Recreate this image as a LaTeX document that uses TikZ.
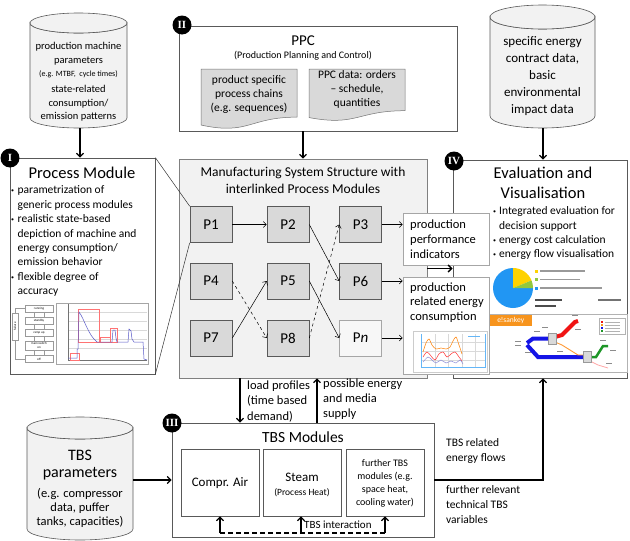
\documentclass[tikz,border=0pt]{standalone}
\usepackage{fontspec}
\setmainfont{Carlito}
\newfontfamily\badgefont{Liberation Serif}
\usetikzlibrary{arrows.meta,calc}
\newcommand\fsz[2]{\fontsize{#1}{#2}\selectfont}
\definecolor{lightfill}{HTML}{F2F2F2}
\definecolor{midfill}{HTML}{D9D9D9}
\definecolor{edge}{HTML}{595959}
\definecolor{piebl}{HTML}{2196F3}
\definecolor{pieyl}{HTML}{FFD200}
\definecolor{piegr}{HTML}{92C83E}
\definecolor{esorange}{HTML}{F7941D}
\definecolor{curveblue}{HTML}{5A5AC8}
\definecolor{sankblue}{HTML}{1414E6}
\definecolor{sankred}{HTML}{F01414}
\definecolor{sankgreen}{HTML}{1E9628}

% cylinder: left x, right x, top-ellipse centre y, bottom-ellipse centre y, y radius
\newcommand\drumshape[5]{%
  \pgfmathsetmacro\drumcx{(#1+#2)/2}%
  \pgfmathsetmacro\drumrx{(#2-#1)/2}%
  \filldraw[cyl] (#1,#3) -- (#1,#4)
    arc[start angle=180,end angle=0,x radius=\drumrx,y radius=#5]
    -- (#2,#3)
    arc[start angle=0,end angle=180,x radius=\drumrx,y radius=#5] -- cycle;
  \filldraw[cyl] (\drumcx,#3) ellipse[x radius=\drumrx,y radius=#5];}

% document shape with wavy lower edge: left x, right x, top y, height
\newcommand\docshape[4]{%
  \pgfmathsetmacro\docmx{(#1+#2)/2}%
  \filldraw[doc] (#1,#3) -- (#2,#3) -- (#2,#3+0.802*#4)
    .. controls (\docmx,#3+0.802*#4) and (\docmx,#3+1.107*#4) .. (#1,#3+0.934*#4) -- cycle;}

\begin{document}
\begin{tikzpicture}[x=1pt,y=-1pt,
  frame/.style={draw=edge,line width=0.7pt},
  pbox/.style={draw=black!65,fill=midfill,line width=0.6pt,minimum width=42pt,
    minimum height=36pt,inner sep=0pt,font=\fsz{15}{15}},
  thin arrow/.style={-{Straight Barb[length=3pt,width=6pt]},line width=0.5pt},
  thick arrow/.style={-{Straight Barb[length=3.5pt,width=7pt]},line width=1.3pt},
  badge/.style={circle,fill=black,text=white,minimum size=19pt,inner sep=0pt,
    font=\badgefont\bfseries\fsz{11}{11}},
  cyl/.style={draw=edge,fill=lightfill,line width=0.6pt},
  doc/.style={draw=black!55,fill=midfill,line width=0.5pt},
  txt/.style={inner sep=0pt,align=center},
  ltxt/.style={inner sep=0pt,align=left,anchor=west},
  stbox/.style={draw=black!40,line width=0.3pt,fill=white,minimum width=28pt,
    minimum height=7pt,inner sep=0pt,font=\fsz{3.2}{3.6},align=center},
  faint/.style={black!40,line width=0.25pt},
]
\useasboundingbox (0,0) rectangle (630,541);

% ---------- data sources (cylinders) ----------
\drumshape{30}{127}{23}{118}{10}
\node[txt,font=\fsz{10.5}{14}] at (78.5,54) {production machine\\parameters};
\node[txt,font=\fsz{8}{9}] at (78.5,74) {(e.g. MTBF,\ \ cycle times)};
\node[txt,font=\fsz{10.5}{13.5}] at (78.5,103.5) {state-related\\consumption/\\emission patterns};
\coordinate (c1b) at (80,128);

\drumshape{490}{595}{17}{116}{12}
\node[txt,font=\fsz{13}{17}] at (542.5,76) {specific energy\\contract data,\\basic\\environmental\\impact data};
\coordinate (c3b) at (543,128);

\drumshape{27}{133}{428}{529}{11}
\node[txt,font=\fsz{16}{17}] at (80,465) {TBS\\parameters};
\node[txt,font=\fsz{12.5}{14}] at (80,508) {(e.g. compressor\\data, puffer\\tanks, capacities)};
\coordinate (c4r) at (133,480);

% ---------- II: PPC ----------
\node[frame,minimum width=278pt,minimum height=105pt,inner sep=0pt] (ppc) at (318,78.5) {};
\node[txt,font=\fsz{15}{16}] at (303,41) {PPC};
\node[txt,font=\fsz{10}{11}] at (303,56) {(Production Planning and Control)};
\docshape{201}{297}{69}{60}
\docshape{309}{405}{69}{52}
\node[txt,font=\fsz{11.5}{14}] at (249,94) {product specific\\process chains\\(e.g. sequences)};
\node[txt,font=\fsz{11.5}{14}] at (357,89) {PPC data: orders\\-- schedule,\\quantities};
\node[badge] at (182,25) {II};

% ---------- I: Process Module ----------
\node[frame,fill=white,minimum width=145pt,minimum height=216pt,inner sep=0pt] (pm) at (82.5,266) {};
\node[txt,font=\fsz{16.5}{18}] at (82,173) {Process Module};
\node[ltxt,font=\fsz{11.5}{14.4}] at (11,241.5) {%
  \begin{tabular}{@{}l@{\hspace{3.5pt}}l@{}}
  \raisebox{1pt}{\fsz{6}{6}\textbullet} & parametrization of\\
   & generic process modules\\
  \raisebox{1pt}{\fsz{6}{6}\textbullet} & realistic state-based\\
   & depiction of machine and\\
   & energy consumption/\\
   & emission behavior\\
  \raisebox{1pt}{\fsz{6}{6}\textbullet} & flexible degree of\\
   & accuracy
  \end{tabular}};
% state model sketch
\node[stbox] (s1) at (39,308.5) {running};
\node[stbox] (s2) at (39,321) {standby};
\node[stbox] (s3) at (39,333) {ramp up};
\node[stbox,minimum height=9pt] (s4) at (39,345.5) {main switch\\on};
\node[stbox] (s5) at (39,359) {off};
\node[stbox,minimum width=6pt,minimum height=27pt] (sf) at (15,326.5) {};
\node[rotate=90,font=\fsz{3.2}{3.5},inner sep=0pt] at (sf) {failure};
\foreach \a/\b in {s1/s2,s2/s3,s3/s4,s4/s5}{
  \draw[faint] ($(\a.south)+(-5,0)$) -- ($(\b.north)+(-5,0)$);
  \draw[faint] ($(\a.south)+(5,0)$) -- ($(\b.north)+(5,0)$);}
\draw[faint] (sf.north) |- (s1.west);
\draw[faint] (sf.south) |- (s5.west);
% load curve sketch
\draw[black!35,line width=0.3pt] (56,303) rectangle (148,364);
\foreach \gy in {312,321,330,339,348}
  \draw[black!15,line width=0.25pt] (68,\gy) -- (147,\gy);
\draw[black!55,line width=0.3pt] (68,304) -- (68,360) -- (147,360);
\draw[red!55,line width=0.4pt] (70,353) rectangle (79,360);
\draw[red!55,line width=0.4pt] (78,309) rectangle (99,342);
\draw[red!55,line width=0.4pt] (100,337) rectangle (110,342);
\draw[red!55,line width=0.4pt] (110,328) rectangle (117,342);
\draw[curveblue,line width=0.5pt] (68,358) -- (77,358) -- (77,349) -- (78,349) -- (79,312)
  .. controls (84,318) and (88,335) .. (97,342) -- (112,342) -- (113,330) -- (115,330)
  -- (116,338) -- (117,342) -- (128,342) -- (129,329) -- (131,331) -- (132,339)
  -- (134,342) -- (143,342) -- (144,359) -- (147,360);
\node[badge] at (10,158) {I};

% ---------- Manufacturing system structure ----------
\node[draw=black!50,fill=lightfill,line width=0.6pt,minimum width=248pt,minimum height=219pt,inner sep=0pt] (mss) at (303,268.5) {};
\node[txt,font=\fsz{13.5}{17}] at (303,180.5) {Manufacturing System Structure with\\interlinked Process Modules};
\node[pbox] (P1) at (211,224.5) {P1};
\node[pbox] (P2) at (288,224.5) {P2};
\node[pbox] (P3) at (360.5,224.5) {P3};
\node[pbox] (P4) at (211,281) {P4};
\node[pbox] (P5) at (288,281) {P5};
\node[pbox] (P6) at (360.5,281) {P6};
\node[pbox] (P7) at (211,338) {P7};
\node[pbox] (P8) at (288,338) {P8};
\node[pbox,fill=black!3,draw=black!35] (Pn) at (360.5,338) {P\textit{n}};
\draw[black!80,line width=0.5pt] (pm.north east) -- (P1.north west);
\draw[black!80,line width=0.5pt] (pm.south east) -- (P1.south west);
\draw[thin arrow] (P1) -- (P2);
\draw[thin arrow] (P2.east) -- (P6.west);
\draw[thin arrow,dashed] (P4.east) -- (P8.west);
\draw[thin arrow] (P7.east) -- (P5.west);
\draw[thin arrow] (P5.east) -- (Pn.west);
\draw[thin arrow,dashed] (P8.east) -- (P3.west);

% ---------- IV: Evaluation ----------
\node[frame,fill=white,minimum width=174pt,minimum height=218pt,inner sep=0pt] (eval) at (540,269) {};
\node[txt,font=\fsz{16.5}{20}] at (543,183) {Evaluation and\\Visualisation};
\node[ltxt,font=\fsz{11.5}{14.3}] at (493,233.5) {%
  \begin{tabular}{@{}l@{\hspace{3pt}}l@{}}
  \raisebox{1pt}{\fsz{6}{6}\textbullet} & Integrated evaluation for\\
   & decision support\\
  \raisebox{1pt}{\fsz{6}{6}\textbullet} & energy cost calculation\\
  \raisebox{1pt}{\fsz{6}{6}\textbullet} & energy flow visualisation
  \end{tabular}};
% cost pie
\coordinate (pc) at (513,288);
\fill[piebl] (pc) -- ++(0:20) arc[start angle=0,end angle=270,radius=20] -- cycle;
\fill[pieyl] (pc) -- ++(-90:20) arc[start angle=-90,end angle=-22,radius=20] -- cycle;
\fill[piegr] (pc) -- ++(-22:20) arc[start angle=-22,end angle=0,radius=20] -- cycle;
\fill[pieyl] (535,269.5) rectangle (538,272.5);
\fill[piegr] (535,278) rectangle (538,281);
\fill[piebl] (535,286.5) rectangle (538,289.5);
\draw[black!40,line width=1.1pt] (540,271) -- (585,271);
\draw[black!40,line width=1.1pt] (540,279.5) -- (580,279.5);
\draw[black!40,line width=1.1pt] (540,288) -- (602,288);
\draw[black!70,line width=1.2pt] (535,300) -- (562,300);
\draw[black!70,line width=1.2pt] (535,306) -- (556,306);
\draw[black!55,line width=1.1pt] (598,300) -- (621,300);
% energy flow (Sankey) sketch
\draw[black!30,line width=0.4pt] (489,314) rectangle (627,372);
\node[fill=esorange,text=white,font=\fsz{7.5}{8},inner sep=0pt,anchor=north west,
  minimum width=43pt,minimum height=11pt] at (489,314.5) {e!sankey};
\draw[sankblue,line width=4pt] (527,343) -- (533,338.5) -- (549,338.5);
\draw[sankblue,line width=4pt] (527,345) -- (538,357) -- (584,357);
\draw[sankred,line width=4pt] (555,337) -- (562,335) -- (575,322) -- (578,321);
\draw[orange!80,line width=0.9pt] (555,342) -- (562,345) -- (578,355) -- (584,355);
\draw[sankgreen,line width=2.5pt] (590,357) -- (596,357) -- (603,346) -- (608,346);
\draw[red!35,line width=0.8pt] (590,361) -- (598,365) -- (608,368);
\filldraw[draw=black!40,fill=black!15,line width=0.3pt] (548,333) rectangle (556,344);
\filldraw[draw=black!40,fill=black!15,line width=0.3pt] (583,351) rectangle (591,362);
\filldraw[draw=black!30,fill=white,line width=0.3pt] (599,318) rectangle (625,334);
\foreach \ly/\lc in {322/sankred,325/esorange,328/sankblue,331/sankgreen}{
  \fill[\lc] (601,\ly-0.8) rectangle (603,\ly+0.8);
  \draw[black!30,line width=0.6pt] (605,\ly) -- (620,\ly);}
\foreach \tx/\ty in {518/341,518/345,545/327,537/331,560/351,528/352,578/329,603/340,613/350,609/363,575/315}
  \draw[black!45,line width=0.8pt] (\tx-3,\ty) -- (\tx+3,\ty);
\node[badge] at (454,161) {IV};

% ---------- result boxes ----------
\node[frame,draw=black!35,fill=white,line width=0.6pt,minimum width=86pt,minimum height=52pt,inner sep=0pt] (perf) at (446,239) {};
\node[ltxt,font=\fsz{12.5}{15}] at (410,239) {production\\performance\\indicators};
\node[frame,draw=black!35,fill=white,line width=0.6pt,minimum width=86pt,minimum height=97pt,inner sep=0pt] (energy) at (446,325.5) {};
\node[ltxt,font=\fsz{12.5}{14.5}] at (410,302.5) {production\\related energy\\consumption};
% consumption curves sketch
\draw[black!20,line width=0.3pt] (413,331) rectangle (487,372);
\foreach \gx in {435,448,462,475}
  \draw[black!15,line width=0.25pt] (\gx,334) -- (\gx,367);
\foreach \gy in {342,351,360}
  \draw[black!15,line width=0.25pt] (421,\gy) -- (485,\gy);
\draw[piebl!70,line width=0.4pt] (421,334) -- (421,367) -- (485,367) -- (485,334);
\draw[piebl!70,line width=0.8pt] (468,336) -- (480,336);
\draw[orange,line width=0.5pt] plot[smooth] coordinates {(423,352) (426,343) (429,339) (432,345) (436,349) (441,348) (446,349) (450,347) (453,341) (456,337) (459,345) (462,354)};
\draw[red!80,line width=0.5pt] plot[smooth] coordinates {(423,357) (427,352) (431,356) (435,360) (439,354) (443,352) (447,357) (451,354) (455,352) (459,357) (462,361)};
\draw[curveblue!70,line width=0.5pt] plot[smooth] coordinates {(423,362) (428,357) (432,360) (436,363) (441,360) (446,363) (451,361) (456,363) (460,360) (463,364)};
\draw[thin arrow] (P3.east) -- (perf.west |- P3.east);
\draw[thin arrow] (P6.east) -- (energy.west |- P6.east);
\draw[thin arrow] (Pn.east) -- (energy.west |- Pn.east);
\draw[thick arrow,line width=1.5pt] (mss.east) -- (eval.west |- mss.east);

% ---------- III: TBS modules ----------
\node[frame,fill=white,minimum width=262pt,minimum height=114pt,inner sep=0pt] (tbs) at (303,480) {};
\node[txt,font=\fsz{15.5}{17}] at (303,437) {TBS Modules};
\node[frame,minimum width=78pt,minimum height=67pt,inner sep=0pt] (ca) at (220,482.5) {};
\node[frame,minimum width=78pt,minimum height=67pt,inner sep=0pt] (st) at (302,482.5) {};
\node[frame,minimum width=78pt,minimum height=67pt,inner sep=0pt] (fu) at (385,482.5) {};
\node[txt,font=\fsz{13}{15}] at (220,483) {Compr. Air};
\node[txt,font=\fsz{13}{15}] at (302,477) {Steam};
\node[txt,font=\fsz{9.5}{11}] at (302,493) {(Process Heat)};
\node[txt,font=\fsz{10}{13}] at (385,483.5) {further TBS\\modules (e.g.\\space heat,\\cooling water)};
\coordinate (ia) at (220,533);
\coordinate (ib) at (385,533);
\coordinate (ic) at (301,533);
\draw[line width=1.3pt,dash pattern=on 5pt off 3pt] (ia) -- (ib);
\draw[thick arrow] (ia) -- (ia |- ca.south);
\draw[thick arrow] (ib) -- (ib |- fu.south);
\draw[thick arrow] (ic) -- (ic |- st.south);
\node[ltxt,font=\fsz{11}{12}] at (304,525) {TBS interaction};
\node[badge] at (172,423) {III};

% ---------- flows between the blocks ----------
\draw[thick arrow] (c1b) -- (c1b |- pm.north);
\draw[thick arrow] (ppc.south -| mss.north) -- (mss.north);
\draw[thick arrow] (c3b) -- (c3b |- eval.north);
\coordinate (lp) at (240,0);
\coordinate (ms) at (317,0);
\draw[thick arrow] (mss.south -| lp) -- (tbs.north -| lp);
\draw[thick arrow] (tbs.north -| ms) -- (mss.south -| ms);
\node[ltxt,font=\fsz{12.5}{15.5}] at (247,401.5) {load profiles\\(time based\\demand)};
\node[ltxt,font=\fsz{12.5}{15}] at (323,399) {possible energy\\and media\\supply};
\draw[thick arrow] (c4r) -- (c4r -| tbs.west);
\coordinate (ecol) at (543,0);
\draw[thick arrow] (tbs.east) -| (ecol |- eval.south);
\node[ltxt,font=\fsz{11.5}{15}] at (446,450.5) {TBS related\\energy flows};
\node[ltxt,font=\fsz{11.5}{15}] at (446,505) {further relevant\\technical TBS\\variables};
\end{tikzpicture}
\end{document}
